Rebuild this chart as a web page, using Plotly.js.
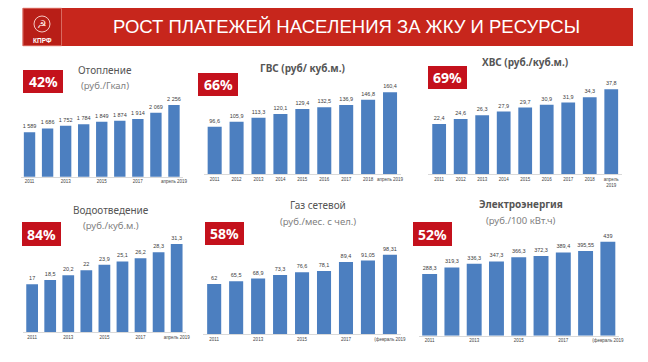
<!DOCTYPE html>
<html><head><meta charset="utf-8">
<script src="https://cdn.plot.ly/plotly-3.0.1.min.js"></script>
<style>html,body{margin:0;padding:0;background:#fff}#chart{width:648px;height:362px}</style>
</head><body><div id="chart"></div>
<script>
// ---- data ----
const periods = ['2011','2012','2013','2014','2015','2016','2017','2018','2019'];
const heatingValues = [1589,1686,1752,1784,1849,1874,1914,2069,2256];
const hotWaterValues = [96.6,105.9,113.3,120.1,129.4,132.5,136.9,146.8,160.4];
const coldWaterValues = [22.4,24.6,26.3,27.9,29.7,30.9,31.9,34.3,37.8];
const sewerageValues = [17,18.5,20.2,22,23.9,25.1,26.2,28.3,31.3];
const gasValues = [62,65.5,68.9,73.3,76.6,78.1,89.4,91.05,98.31];
const electricityValues = [288.3,319.3,336.3,347.3,366.3,372.3,389.4,395.55,439];

const ticksSparseApril = ['2011','','2013','','2015','','2017','','апрель 2019'];
const ticksFullApril = ['2011','2012','2013','2014','2015','2016','2017','2018','апрель 2019'];
const ticksFullApril2 = ['2011','2012','2013','2014','2015','2016','2017','2018','апрель<br>2019'];
const ticksSparseFeb = ['2011','','2013','','2015','','2017','','(февраль 2019'];

const growthLabels = ['42%','66%','69%','84%','58%','52%'];
const panelTitles = [
  ['Отопление','(руб./Гкал)'],
  ['ГВС (руб/ куб.м.)'],
  ['ХВС (руб./куб.м.)'],
  ['Водоотведение','(руб./куб.м.)'],
  ['Газ сетевой','(руб./мес. с чел.)'],
  ['Электроэнергия','(руб./100 кВт.ч)']
];
const headerText = 'РОСТ ПЛАТЕЖЕЙ НАСЕЛЕНИЯ ЗА ЖКУ И РЕСУРСЫ';

// ---- layout helpers ----
const W = 648, H = 362;
const px = x => x / W, py = y => 1 - y / H;
const fmtThousands = v => String(v).replace(/\B(?=(\d{3})+(?!\d))/g, ' ');
const fmtDecimal = v => String(v).replace('.', ',');

const panels = [
  {vals: heatingValues, ticks: ticksSparseApril, fmt: fmtThousands, x0: 20.5, x1: 183, yt: 100, yb: 176.7, r: [508, 2378], bw: 0.63,
   bx: [23, 63], by: [70, 93], tx: 105, ty: [70, 86], bold: false},
  {vals: hotWaterValues, ticks: ticksFullApril, fmt: fmtDecimal, x0: 203.7, x1: 401, yt: 90, yb: 174.3, r: [8, 164.7], bw: 0.64,
   bx: [198, 238], by: [73, 96], tx: 302, ty: [68], bold: true},
  {vals: coldWaterValues, ticks: ticksFullApril2, fmt: fmtDecimal, x0: 428.4, x1: 622, yt: 85, yb: 174.3, r: [0, 39.74], bw: 0.64,
   bx: [428, 467], by: [66, 89], tx: 525, ty: [62], bold: true},
  {vals: sewerageValues, ticks: ticksSparseApril, fmt: fmtDecimal, x0: 23.1, x1: 185.7, yt: 235, yb: 332.3, r: [0, 34.45], bw: 0.65,
   bx: [22, 61], by: [222, 246], tx: 111, ty: [210, 225], bold: false},
  {vals: gasValues, ticks: ticksSparseFeb, fmt: fmtDecimal, x0: 203.2, x1: 400.9, yt: 235, yb: 334.3, r: [0, 122.7], bw: 0.64,
   bx: [205, 244], by: [222, 245], tx: 318, ty: [205, 221], bold: false},
  {vals: electricityValues, ticks: ticksSparseFeb, fmt: fmtDecimal, x0: 418.5, x1: 619, yt: 235, yb: 335.7, r: [0, 470.6], bw: 0.67,
   bx: [413, 452], by: [222, 246], tx: 521, ty: [204, 220], bold: true}
];

const BAR = '#4C7FC0';
const BADGE = '#C4111C';
const traces = [];
const layout = {
  width: W, height: H, margin: {l: 0, r: 0, t: 0, b: 0},
  paper_bgcolor: '#fff', plot_bgcolor: 'rgba(0,0,0,0)',
  showlegend: false, shapes: [], annotations: [],
  font: {family: 'Liberation Sans, Arial, sans-serif'}
};

panels.forEach((p, i) => {
  const n = i === 0 ? '' : String(i + 1);
  traces.push({
    type: 'bar', x: periods, y: p.vals, xaxis: 'x' + n, yaxis: 'y' + n,
    width: p.bw, marker: {color: BAR},
    text: p.vals.map(p.fmt), textposition: 'outside', cliponaxis: false, constraintext: 'none',
    textfont: {size: 5.5, color: '#404040', family: 'Liberation Sans, Arial, sans-serif'},
    hoverinfo: 'skip'
  });
  layout['xaxis' + n] = {
    domain: [px(p.x0), px(p.x1)], anchor: 'y' + n, type: 'category',
    categoryorder: 'array', categoryarray: periods,
    tickmode: 'array', tickvals: periods, ticktext: p.ticks, tickangle: 0,
    tickfont: {size: 4.5, color: '#444', family: 'Liberation Sans, Arial, sans-serif'},
    showline: true, linecolor: '#d9d9d9', linewidth: 1, ticks: '', showgrid: false, zeroline: false, fixedrange: true
  };
  layout['yaxis' + n] = {
    domain: [py(p.yb), py(p.yt)], anchor: 'x' + n, range: p.r,
    showticklabels: false, showgrid: false, zeroline: false, showline: false, ticks: '', fixedrange: true
  };
  // badge
  layout.shapes.push({type: 'rect', xref: 'paper', yref: 'paper', x0: px(p.bx[0]), x1: px(p.bx[1]), y0: py(p.by[1]), y1: py(p.by[0]),
    fillcolor: BADGE, line: {width: 0}});
  layout.annotations.push({xref: 'paper', yref: 'paper', x: px((p.bx[0] + p.bx[1]) / 2), y: py((p.by[0] + p.by[1]) / 2),
    text: '<b>' + growthLabels[i] + '</b>', showarrow: false, xanchor: 'center', yanchor: 'middle',
    font: {size: 14, color: '#fff', family: 'Noto Sans, Liberation Sans, sans-serif'}});
  // titles
  panelTitles[i].forEach((t, k) => {
    layout.annotations.push({xref: 'paper', yref: 'paper', x: px(p.tx), y: py(p.ty[k]),
      text: (p.bold && k === 0) ? '<b>' + t + '</b>' : t, showarrow: false, xanchor: 'center', yanchor: 'middle',
      font: {size: k === 0 ? 10 : 9.5, color: k === 0 ? '#555' : '#808080', family: 'Noto Sans, Liberation Sans, sans-serif'}});
  });
});

// header banner
layout.shapes.push({type: 'rect', xref: 'paper', yref: 'paper', x0: px(22.7), x1: px(633), y0: py(46), y1: py(8),
  fillcolor: '#C7261C', line: {width: 0}, layer: 'below'});
layout.shapes.push({type: 'rect', xref: 'paper', yref: 'paper', x0: px(23), x1: px(61.5), y0: py(45.7), y1: py(8.3),
  fillcolor: '#B81E17', line: {width: 1, color: '#D96A60'}});
layout.shapes.push({type: 'circle', xref: 'paper', yref: 'paper', x0: px(34), x1: px(50), y0: py(32), y1: py(16),
  line: {width: 1, color: 'rgba(255,230,225,0.85)'}});
layout.annotations.push({xref: 'paper', yref: 'paper', x: px(42), y: py(24.5), text: '☭', showarrow: false,
  xanchor: 'center', yanchor: 'middle', font: {size: 11, color: '#FBE3DF', family: 'DejaVu Sans'}});
layout.annotations.push({xref: 'paper', yref: 'paper', x: px(42), y: py(40.5), text: '<b>КПРФ</b>', showarrow: false,
  xanchor: 'center', yanchor: 'middle', font: {size: 6.5, color: '#fff', family: 'Liberation Sans, Arial, sans-serif'}});
layout.annotations.push({xref: 'paper', yref: 'paper', x: px(346.5), y: py(27), text: headerText, showarrow: false,
  xanchor: 'center', yanchor: 'middle', font: {size: 18.5, color: '#fff', family: 'Liberation Sans, Arial, sans-serif'}});

Plotly.newPlot('chart', traces, layout, {displayModeBar: false, staticPlot: true});
</script>
</body></html>
